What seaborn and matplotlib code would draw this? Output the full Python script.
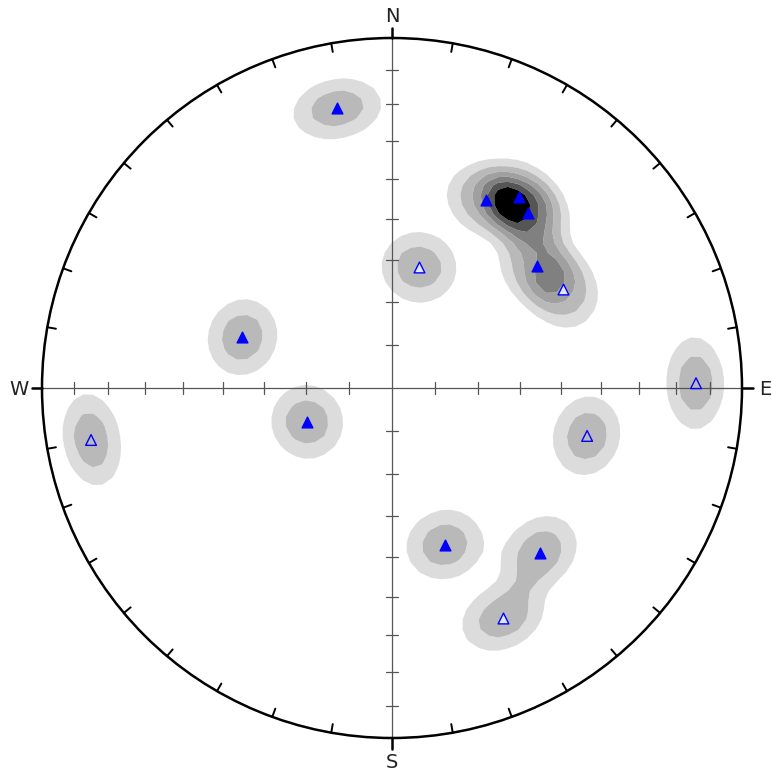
import numpy as np
import pandas as pd
import matplotlib
matplotlib.use("Agg")
import matplotlib.pyplot as plt
from matplotlib.patches import Circle
import seaborn as sns

# Pole orientations, degrees (trend clockwise from north, plunge down from horizontal)
trend = [348.9, 26.6, 33.6, 37.9, 49.9, 59.9, 12.6, 288.8, 248.2,
         260.2, 89.1, 103.8, 161.4, 138.1, 154.2]
plunge = [19.6, 39.7, 34.8, 36.8, 45.0, 42.9, 61.0, 52.7, 68.7,
          13.8, 14.2, 42.1, 50.9, 36.8, 27.9]
kind = ["solid", "solid", "solid", "solid", "solid", "light", "light", "solid", "solid",
        "open", "open", "open", "solid", "solid", "light"]

# Density contour levels and fill shades
levels = [0.409, 0.818, 1.227, 1.58, 1.92, 2.22, 100.0]
shades = ["#dcdcdc", "#b9b9b9", "#a0a0a0", "#808080", "#555555", "#000000"]
kernel_width = 8.72   # degrees
kernel_power = 3.0

cardinals = ["N", "E", "S", "W"]


def project(tr, pl):
    """Lower-hemisphere equal-area (Schmidt) projection, unit primitive."""
    tr = np.radians(np.asarray(tr, float))
    theta = np.radians(90.0 - np.asarray(pl, float))
    r = np.sqrt(2.0) * np.sin(theta / 2.0)
    return r * np.sin(tr), r * np.cos(tr)


def unit_vectors(tr, pl):
    tr = np.radians(np.asarray(tr, float))
    pl = np.radians(np.asarray(pl, float))
    return np.stack([np.cos(pl) * np.sin(tr), np.cos(pl) * np.cos(tr), np.sin(pl)], -1)


sns.set_style("white")
plt.rcParams["font.family"] = ["DejaVu Sans"]

fig = plt.figure(figsize=(7.72, 7.76), dpi=100)
ax = fig.add_axes([0, 0, 1, 1])
ax.set_xlim(-392 / 350, 380 / 350)
ax.set_ylim(-388 / 350, 388 / 350)
ax.axis("off")

# Spherical density on a grid of the projection plane
g = np.linspace(-1.02, 1.02, 75)
GX, GY = np.meshgrid(g, g)
R = np.hypot(GX, GY)
th = 2 * np.arcsin(np.clip(R / np.sqrt(2), 0, 1))
az = np.arctan2(GX, GY)
V = np.stack([np.sin(th) * np.sin(az), np.sin(th) * np.cos(az), np.cos(th)], -1)
P = unit_vectors(trend, plunge)
ang = np.degrees(np.arccos(np.clip(np.abs(V @ P.T), 0, 1)))
dens = np.exp(-(ang / kernel_width) ** kernel_power).sum(-1)

cf = ax.contourf(GX, GY, dens, levels=levels, colors=shades, antialiased=True)
cf.set_clip_path(Circle((0, 0), 1.0, transform=ax.transData))

# Cross-hair with 10-degree plunge ticks
ext = 1.03
ax.plot([-1, 1], [0, 0], color="#555555", lw=0.9, zorder=3)
ax.plot([0, 0], [-1, 1], color="#555555", lw=0.9, zorder=3)
tick_r = np.sqrt(2) * np.sin(np.radians(np.arange(10, 90, 10)) / 2)
hl = 0.016
for r in tick_r:
    for s in (-1, 1):
        ax.plot([s * r, s * r], [-hl, hl], color="#555555", lw=0.9, zorder=3)
        ax.plot([-hl, hl], [s * r, s * r], color="#555555", lw=0.9, zorder=3)

# Primitive circle with inward azimuth ticks every 10 degrees
ax.add_patch(Circle((0, 0), 1.0, fill=False, ec="black", lw=1.8, zorder=4))
for a in range(0, 360, 10):
    ar = np.radians(a)
    sx, sy = np.sin(ar), np.cos(ar)
    if a % 90 == 0:
        ax.plot([sx, ext * sx], [sy, ext * sy], color="black", lw=1.8, zorder=4)
    else:
        ax.plot([sx, 0.975 * sx], [sy, 0.975 * sy], color="black", lw=1.4, zorder=4)

# Poles
px, py = project(trend, plunge)
df = pd.DataFrame({"x": px, "y": py, "kind": kind})
faces = {"solid": "#0000ff", "light": "#dfe8ff", "open": "none"}
for k, fc in faces.items():
    sub = df[df["kind"] == k]
    sns.scatterplot(data=sub, x="x", y="y", marker="^", s=60, color=fc,
                    edgecolor="#0000ff", linewidth=1.0, ax=ax, zorder=6, legend=False)
ax.set_xlim(-392 / 350, 380 / 350)
ax.set_ylim(-388 / 350, 388 / 350)

# Cardinal labels
lab_r = 1.065
for name, a in zip(cardinals, [0, 90, 180, 270]):
    ar = np.radians(a)
    ax.text(lab_r * np.sin(ar), lab_r * np.cos(ar) - 0.004, name, ha="center", va="center",
            fontsize=14, color="#222222")

fig.savefig("out.png", dpi=100)
